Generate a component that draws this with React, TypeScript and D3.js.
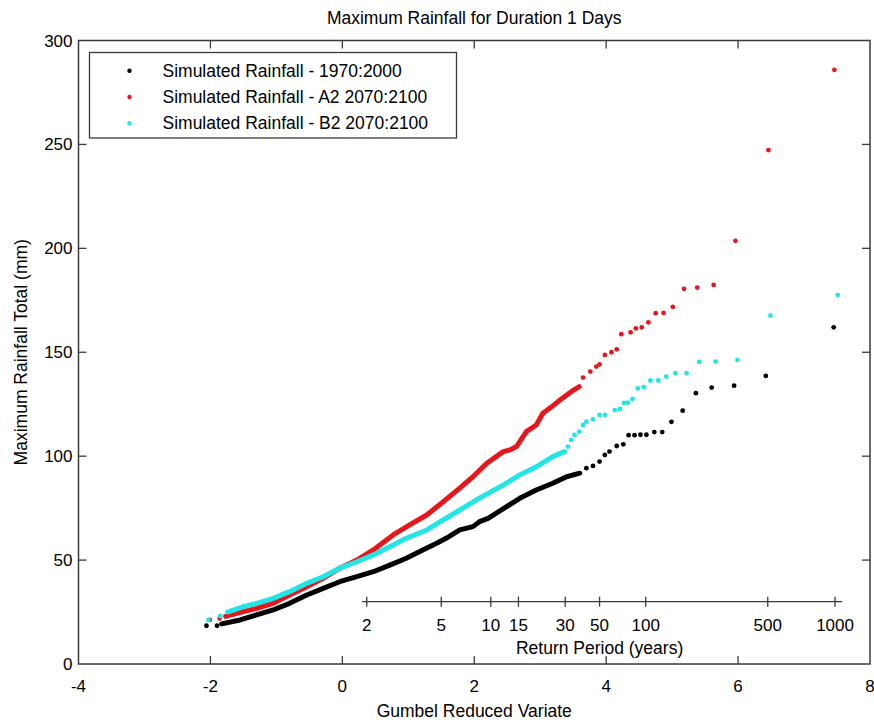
import React from 'react';
import * as d3 from 'd3';

const width = 874;
const height = 720;
const box = { left: 78.5, right: 870, top: 40.5, bottom: 664 };
const font = '"Liberation Sans", Arial, Helvetica, sans-serif';

const xTicks = [-4, -2, 0, 2, 4, 6, 8];
const yTicks = [0, 50, 100, 150, 200, 250, 300];

// secondary axis: return period labels and where they sit on the gumbel axis
const returnPeriods = [2, 5, 10, 15, 30, 50, 100, 500, 1000];
const returnPeriodVariates = [0.37, 1.5, 2.25, 2.67, 3.38, 3.9, 4.6, 6.45, 7.47];
const returnAxisSpan = [0.3, 7.58];
const returnAxisLevel = 30;

const seriesNames = [
  'Simulated Rainfall - 1970:2000',
  'Simulated Rainfall - A2 2070:2100',
  'Simulated Rainfall - B2 2070:2100',
];
const seriesColors = ['#000000', '#e8161a', '#22e6e6'];

// dense part of each series (drawn as a band), then the separate dots
const blackBand = [
  [-1.83, 19.3], [-1.55, 21.2], [-1.3, 23.6], [-1.05, 26.0], [-0.8, 29.2],
  [-0.54, 33.2], [-0.29, 36.4], [-0.04, 39.6], [0.22, 42.0], [0.47, 44.4],
  [0.72, 47.6], [0.97, 50.9], [1.22, 54.9], [1.43, 58.1], [1.58, 60.6],
  [1.78, 64.5], [1.98, 66.1], [2.08, 68.5], [2.21, 70.1], [2.46, 75.1],
  [2.69, 79.7], [2.94, 83.7], [3.19, 87.0], [3.4, 90.1], [3.6, 91.8],
];
const blackDots = [
  [-2.06, 18.4], [-1.9, 18.4],
  [3.7, 94.2], [3.8, 95.3], [3.9, 97.4], [3.98, 100.6], [4.05, 102.2],
  [4.16, 104.9], [4.26, 105.7], [4.34, 110.1], [4.43, 110.1], [4.52, 110.3],
  [4.61, 110.3], [4.73, 111.6], [4.85, 111.6], [4.99, 116.5], [5.16, 121.9],
  [5.36, 130.3], [5.6, 133.0], [5.94, 133.9], [6.42, 138.6], [7.45, 162.0],
];

const redBand = [
  [-1.77, 22.9], [-1.5, 25.2], [-1.3, 26.8], [-1.05, 29.2], [-0.8, 33.2],
  [-0.54, 37.2], [-0.29, 41.2], [-0.04, 46.1], [0.22, 50.0], [0.47, 54.9],
  [0.77, 62.1], [1.02, 66.9], [1.28, 71.7], [1.53, 78.1], [1.78, 84.6],
  [1.98, 90.1], [2.19, 96.6], [2.44, 102.2], [2.54, 103.0], [2.64, 104.6],
  [2.79, 111.8], [2.94, 115.0], [3.04, 120.6], [3.19, 124.2], [3.3, 127.0],
  [3.47, 131.0], [3.59, 133.4],
];
const redDots = [
  [-2.01, 21.2], [-1.86, 21.9],
  [3.65, 137.8], [3.76, 140.7], [3.85, 143.1], [3.9, 144.2], [3.98, 148.7],
  [4.08, 150.0], [4.16, 151.4], [4.23, 158.7], [4.37, 159.6], [4.45, 161.5],
  [4.54, 162.0], [4.64, 164.4], [4.75, 168.8], [4.87, 168.9], [5.01, 171.8],
  [5.18, 180.5], [5.38, 181.1], [5.63, 182.4], [5.96, 203.6], [6.46, 247.3],
  [7.46, 285.9],
];

const cyanBand = [
  [-1.74, 25.0], [-1.5, 27.6], [-1.3, 29.2], [-1.05, 31.6], [-0.8, 34.8],
  [-0.54, 38.8], [-0.29, 42.0], [-0.04, 46.1], [0.22, 49.2], [0.47, 52.5],
  [0.72, 56.4], [0.97, 60.5], [1.28, 64.5], [1.53, 69.3], [1.78, 74.1],
  [2.03, 78.9], [2.21, 82.1], [2.44, 86.1], [2.69, 91.0], [2.94, 94.9],
  [3.19, 99.8], [3.37, 102.2],
];
const cyanDots = [
  [-2.03, 21.2], [-1.85, 23.1],
  [3.42, 104.6], [3.47, 107.8], [3.52, 110.2], [3.59, 111.8], [3.65, 115.0],
  [3.7, 116.6], [3.8, 117.8], [3.9, 119.8], [3.98, 119.8], [4.13, 122.2],
  [4.21, 122.7], [4.27, 125.6], [4.33, 125.7], [4.4, 127.5], [4.48, 132.6],
  [4.57, 133.2], [4.67, 136.4], [4.79, 136.4], [4.91, 138.3], [5.05, 139.9],
  [5.22, 139.9], [5.41, 145.4], [5.66, 145.5], [5.99, 146.3], [6.49, 167.6],
  [7.51, 177.6],
];

const seriesBands = [blackBand, redBand, cyanBand];
const seriesDots = [blackDots, redDots, cyanDots];

export default function App() {
  const x = d3.scaleLinear().domain([-4, 8]).range([box.left, box.right]);
  const y = d3.scaleLinear().domain([0, 300]).range([box.bottom, box.top]);

  const line = d3.line<number[]>()
    .x(d => x(d[0]))
    .y(d => y(d[1]));

  const tickLen = 8;
  const axisColor = '#3a3a3a';
  const rpY = y(returnAxisLevel);
  const labelSize = 17.5;
  const numSize = 17;

  return (
    <>
      <style>{`body{margin:0}`}</style>
      <svg width={width} height={height} style={{ display: 'block', background: '#fff' }}
        fontFamily={font}>
        {/* title */}
        <text x={(box.left + box.right) / 2} y={24} textAnchor="middle" fontSize={labelSize}>
          Maximum Rainfall for Duration 1 Days
        </text>

        {/* series */}
        {seriesBands.map((band, i) => (
          <g key={i}>
            <path
              d={line(band) || ''}
              fill="none"
              stroke={seriesColors[i]}
              strokeWidth={5}
              strokeLinecap="round"
              strokeLinejoin="round"
            />
            {seriesDots[i].map((d, j) => (
              <circle key={j} cx={x(d[0])} cy={y(d[1])} r={2.4} fill={seriesColors[i]} />
            ))}
          </g>
        ))}

        {/* return period axis */}
        <g stroke={axisColor} strokeWidth={1.3}>
          <line x1={x(returnAxisSpan[0])} x2={x(returnAxisSpan[1])} y1={rpY} y2={rpY} />
          {returnPeriodVariates.map((v, i) => (
            <line key={i} x1={x(v)} x2={x(v)} y1={rpY - 5} y2={rpY + 5} />
          ))}
        </g>
        {returnPeriods.map((p, i) => (
          <text key={p} x={x(returnPeriodVariates[i])} y={rpY + 29} textAnchor="middle" fontSize={numSize}>
            {p}
          </text>
        ))}
        <text x={x(3.9)} y={rpY + 52} textAnchor="middle" fontSize={labelSize}>
          Return Period (years)
        </text>

        {/* axes box */}
        <rect x={box.left} y={box.top} width={box.right - box.left} height={box.bottom - box.top}
          fill="none" stroke={axisColor} strokeWidth={1.5} />
        <g stroke={axisColor} strokeWidth={1.3}>
          {xTicks.slice(1, -1).map(t => (
            <g key={t}>
              <line x1={x(t)} x2={x(t)} y1={box.bottom} y2={box.bottom - tickLen} />
              <line x1={x(t)} x2={x(t)} y1={box.top} y2={box.top + tickLen} />
            </g>
          ))}
          {yTicks.slice(1, -1).map(t => (
            <g key={t}>
              <line x1={box.left} x2={box.left + tickLen} y1={y(t)} y2={y(t)} />
              <line x1={box.right} x2={box.right - tickLen} y1={y(t)} y2={y(t)} />
            </g>
          ))}
        </g>
        {xTicks.map(t => (
          <text key={t} x={x(t)} y={692} textAnchor="middle" fontSize={numSize}>
            {t}
          </text>
        ))}
        {yTicks.map(t => (
          <text key={t} x={box.left - 6} y={y(t) + 6} textAnchor="end" fontSize={numSize}>
            {t}
          </text>
        ))}
        <text x={(box.left + box.right) / 2} y={717} textAnchor="middle" fontSize={labelSize}>
          Gumbel Reduced Variate
        </text>
        <text transform={`translate(27, ${(box.top + box.bottom) / 2}) rotate(-90)`}
          textAnchor="middle" fontSize={labelSize}>
          Maximum Rainfall Total (mm)
        </text>

        {/* legend */}
        <rect x={89.5} y={52.5} width={367} height={85.5} fill="#fff" stroke={axisColor} strokeWidth={1.3} />
        {seriesNames.map((name, i) => (
          <g key={name} transform={`translate(0, ${70.7 + i * 26.3})`}>
            <circle cx={129.5} cy={0} r={2.2} fill={seriesColors[i]} />
            <text x={162.5} y={6} fontSize={labelSize}>{name}</text>
          </g>
        ))}
      </svg>
    </>
  );
}
